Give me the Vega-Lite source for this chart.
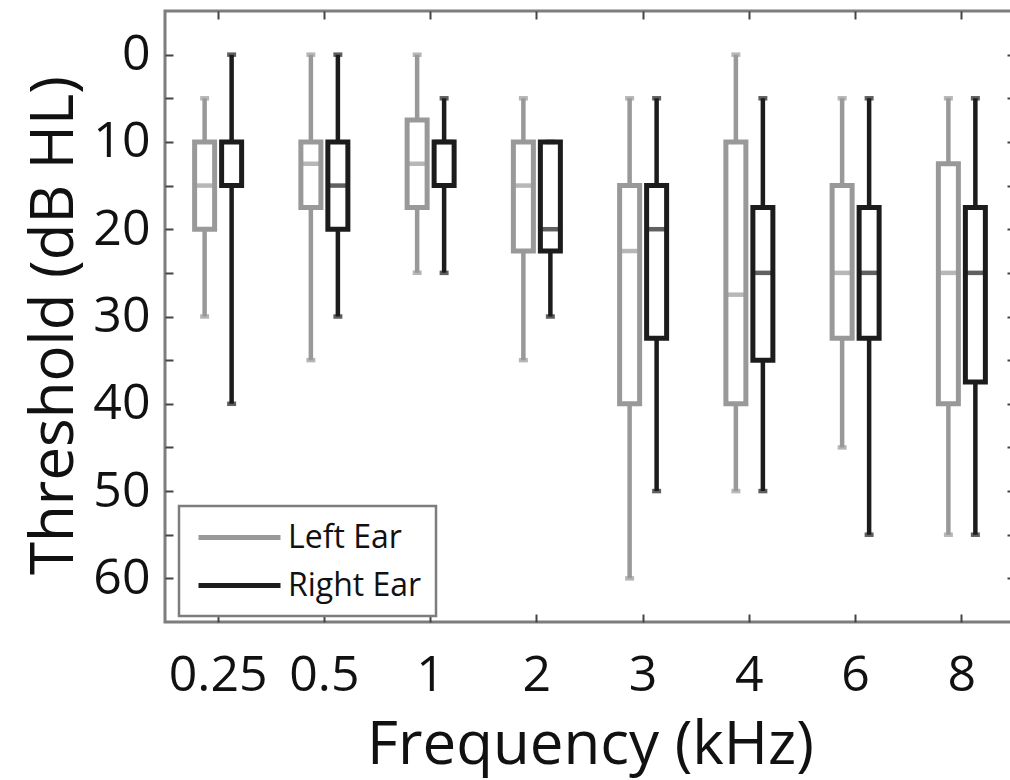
{
  "$schema": "https://vega.github.io/schema/vega-lite/v6.json",
  "width": 850,
  "height": 611,
  "autosize": "none",
  "padding": {"left": 165, "top": 11, "right": 0, "bottom": 158},
  "background": "white",
  "config": {
    "font": "Open Sans",
    "view": {"stroke": "#7d7d7d", "strokeWidth": 3},
    "axis": {
      "domain": false,
      "grid": false,
      "tickColor": "#444444",
      "tickWidth": 2,
      "tickSize": -8,
      "labelFont": "Open Sans",
      "labelFontSize": 50,
      "labelColor": "#111111",
      "labelOverlap": false,
      "titleFont": "Open Sans",
      "titleFontSize": 60,
      "titleFontWeight": "normal",
      "titleColor": "#111111"
    },
    "legend": {
      "orient": "none",
      "legendX": 14,
      "legendY": 495,
      "symbolType": "M-2.733,0H2.733",
      "symbolSize": 900,
      "symbolStrokeWidth": 5,
      "symbolOffset": 29,
      "labelOffset": 31,
      "labelFont": "Open Sans",
      "labelFontSize": 32,
      "labelColor": "#111111",
      "padding": 14,
      "rowPadding": 14,
      "strokeColor": "#7d7d7d",
      "strokeWidth": 2.5,
      "fillColor": "white"
    }
  },
  "data": {
    "values": [
      {"freq": "0.25", "ear": "Left Ear", "lo": 5, "q1": 10, "med": 15, "q3": 20, "hi": 30},
      {"freq": "0.25", "ear": "Right Ear", "lo": 0, "q1": 10, "med": 15, "q3": 15, "hi": 40},
      {"freq": "0.5", "ear": "Left Ear", "lo": 0, "q1": 10, "med": 12.5, "q3": 17.5, "hi": 35},
      {"freq": "0.5", "ear": "Right Ear", "lo": 0, "q1": 10, "med": 15, "q3": 20, "hi": 30},
      {"freq": "1", "ear": "Left Ear", "lo": 0, "q1": 7.5, "med": 12.5, "q3": 17.5, "hi": 25},
      {"freq": "1", "ear": "Right Ear", "lo": 5, "q1": 10, "med": 10, "q3": 15, "hi": 25},
      {"freq": "2", "ear": "Left Ear", "lo": 5, "q1": 10, "med": 15, "q3": 22.5, "hi": 35},
      {"freq": "2", "ear": "Right Ear", "lo": 10, "q1": 10, "med": 20, "q3": 22.5, "hi": 30},
      {"freq": "3", "ear": "Left Ear", "lo": 5, "q1": 15, "med": 22.5, "q3": 40, "hi": 60},
      {"freq": "3", "ear": "Right Ear", "lo": 5, "q1": 15, "med": 20, "q3": 32.5, "hi": 50},
      {"freq": "4", "ear": "Left Ear", "lo": 0, "q1": 10, "med": 27.5, "q3": 40, "hi": 50},
      {"freq": "4", "ear": "Right Ear", "lo": 5, "q1": 17.5, "med": 25, "q3": 35, "hi": 50},
      {"freq": "6", "ear": "Left Ear", "lo": 5, "q1": 15, "med": 25, "q3": 32.5, "hi": 45},
      {"freq": "6", "ear": "Right Ear", "lo": 5, "q1": 17.5, "med": 25, "q3": 32.5, "hi": 55},
      {"freq": "8", "ear": "Left Ear", "lo": 5, "q1": 12.5, "med": 25, "q3": 40, "hi": 55},
      {"freq": "8", "ear": "Right Ear", "lo": 5, "q1": 17.5, "med": 25, "q3": 37.5, "hi": 55}
    ]
  },
  "layer": [
    {
      "mark": {"type": "rule", "strokeWidth": 4.5},
      "encoding": {
        "x": {
          "field": "freq", "type": "ordinal",
          "sort": ["0.25", "0.5", "1", "2", "3", "4", "6", "8"],
          "scale": {"type": "band", "paddingInner": 0, "paddingOuter": 0},
          "axis": {"orient": "bottom", "title": "Frequency (kHz)", "labelAngle": 0, "labelBaseline": "alphabetic", "labelPadding": 76, "titleBaseline": "alphabetic", "titleY": 141}
        },
        "xOffset": {"field": "ear", "type": "nominal", "scale": {"type": "band", "paddingInner": 0, "paddingOuter": 0.968}},
        "y": {
          "field": "lo", "type": "quantitative",
          "scale": {"domain": [-5, 65], "reverse": true, "nice": false, "zero": false},
          "axis": {"orient": "left", "title": "Threshold (dB HL)", "values": [0, 5, 10, 15, 20, 25, 30, 35, 40, 45, 50, 55, 60], "labelExpr": "datum.value % 10 === 0 ? datum.label : ''", "labelPadding": 23, "titleBaseline": "alphabetic", "titleX": -93, "titleY": 314}
        },
        "y2": {"field": "hi"},
        "color": {
          "field": "ear", "type": "nominal",
          "scale": {"domain": ["Left Ear", "Right Ear"], "range": ["#999999", "#1c1c1c"]},
          "legend": {"title": null, "labelExpr": "datum.label + '\u00a0\u00a0\u00a0\u00a0\u00a0\u00a0\u00a0'"}
        }
      }
    },
    {
      "mark": {"type": "bar", "fill": "white", "strokeWidth": 5, "width": 20},
      "encoding": {
        "x": {"field": "freq", "type": "ordinal", "sort": ["0.25", "0.5", "1", "2", "3", "4", "6", "8"], "axis": null},
        "xOffset": {"field": "ear", "type": "nominal"},
        "y": {
          "field": "q1", "type": "quantitative",
          "axis": {"orient": "right", "labels": false, "title": null, "values": [0, 5, 10, 15, 20, 25, 30, 35, 40, 45, 50, 55, 60]}
        },
        "y2": {"field": "q3"},
        "stroke": {
          "field": "ear", "type": "nominal",
          "scale": {"domain": ["Left Ear", "Right Ear"], "range": ["#999999", "#1c1c1c"]},
          "legend": null
        }
      }
    },
    {
      "mark": {"type": "tick", "thickness": 4.5, "size": 20, "orient": "horizontal"},
      "encoding": {
        "x": {"field": "freq", "type": "ordinal", "sort": ["0.25", "0.5", "1", "2", "3", "4", "6", "8"], "axis": {"orient": "top", "labels": false, "title": null}},
        "xOffset": {"field": "ear", "type": "nominal"},
        "y": {"field": "med", "type": "quantitative", "axis": null},
        "color": {"field": "ear", "type": "nominal", "legend": null}
      }
    },
    {
      "mark": {"type": "tick", "thickness": 4.5, "size": 9, "orient": "horizontal"},
      "encoding": {
        "x": {"field": "freq", "type": "ordinal", "sort": ["0.25", "0.5", "1", "2", "3", "4", "6", "8"], "axis": null},
        "xOffset": {"field": "ear", "type": "nominal"},
        "y": {"field": "lo", "type": "quantitative", "axis": null},
        "color": {"field": "ear", "type": "nominal", "legend": null}
      }
    },
    {
      "mark": {"type": "tick", "thickness": 4.5, "size": 9, "orient": "horizontal"},
      "encoding": {
        "x": {"field": "freq", "type": "ordinal", "sort": ["0.25", "0.5", "1", "2", "3", "4", "6", "8"], "axis": null},
        "xOffset": {"field": "ear", "type": "nominal"},
        "y": {"field": "hi", "type": "quantitative", "axis": null},
        "color": {"field": "ear", "type": "nominal", "legend": null}
      }
    }
  ]
}
